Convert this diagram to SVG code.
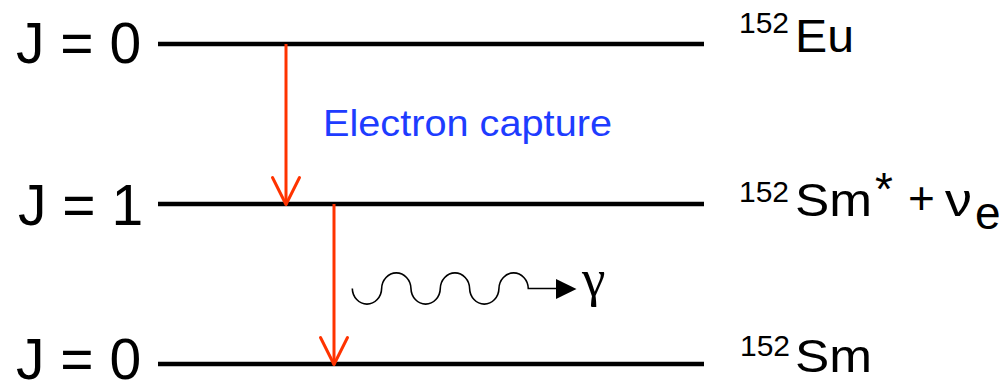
<svg xmlns="http://www.w3.org/2000/svg" width="999" height="387" viewBox="0 0 999 387">
  <style>
    .level { stroke: #000; stroke-width: 4.5; fill: none; }
    .j { font-family: "Liberation Sans", Arial, sans-serif; font-size: 57px; fill: #000; }
    .sup { font-family: "Liberation Sans", Arial, sans-serif; font-size: 30px; fill: #000; }
    .nuc { font-family: "Liberation Sans", Arial, sans-serif; font-size: 46px; fill: #000; }
    .decay { stroke: #ff3300; stroke-width: 3; fill: none; stroke-linejoin: round; }
    .blue { font-family: "Liberation Sans", Arial, sans-serif; font-size: 37px; fill: #1e3cff; }
    .wave { stroke: #000; stroke-width: 1.6; fill: none; }
  </style>
  <defs>
    <marker id="openV" markerUnits="userSpaceOnUse" viewBox="-32 -18 36 36" markerWidth="36" markerHeight="36" refX="0" refY="0" orient="auto" overflow="visible">
      <path d="M-27,-13.5 L0,0 L-27,13.5" fill="none" stroke="#ff3300" stroke-width="3" stroke-linejoin="round" stroke-linecap="round"/>
    </marker>
  </defs>
  <rect width="999" height="387" fill="#fff"/>

  <g id="level-eu152">
    <line class="level" x1="158" y1="44" x2="704" y2="44"/>
    <text class="j" x="16" y="63">J = 0</text>
    <text class="sup" x="739" y="33">152</text>
    <text class="nuc" x="795" y="52" textLength="59" lengthAdjust="spacingAndGlyphs">Eu</text>
  </g>

  <g id="level-sm152-excited">
    <line class="level" x1="158" y1="204" x2="704" y2="204"/>
    <text class="j" x="18" y="225">J = 1</text>
    <text class="sup" x="739" y="202">152</text>
    <text class="nuc" x="795" y="216" textLength="77" lengthAdjust="spacingAndGlyphs">Sm</text>
    <text class="nuc" x="875" y="205" font-size="36">*</text>
    <text class="nuc" x="908" y="214" font-size="40">+</text>
    <text class="nuc" x="945" y="216" font-size="32" textLength="27" lengthAdjust="spacingAndGlyphs">ν</text>
    <text class="nuc" x="975" y="229" font-size="28">e</text>
  </g>

  <g id="level-sm152">
    <line class="level" x1="158" y1="364" x2="704" y2="364"/>
    <text class="j" x="16" y="379">J = 0</text>
    <text class="sup" x="740" y="356">152</text>
    <text class="nuc" x="795" y="372" textLength="77" lengthAdjust="spacingAndGlyphs">Sm</text>
  </g>

  <g id="label-electron-capture">
    <text class="blue" x="323" y="136" textLength="289" lengthAdjust="spacingAndGlyphs">Electron capture</text>
  </g>

  <g id="gamma-photon">
    <path class="wave" d="M352.3,288.5 a14.67,16 0 0 0 29.33,0 a14.67,16 0 0 1 29.33,0 a14.67,16 0 0 0 29.33,0 a14.67,16 0 0 1 29.33,0 a14.67,16 0 0 0 29.33,0 a14.67,16 0 0 1 29.33,0 L556.5,288.5"/>
    <path d="M556,279 L576.5,289 L556,299 Z" fill="#000"/>
    <text x="582" y="296" font-family="'Liberation Serif', 'Times New Roman', serif" font-size="53" fill="#000">γ</text>
  </g>

  <g id="connectors">
    <line class="decay" x1="286" y1="44" x2="286" y2="204.5" marker-end="url(#openV)"/>
    <line class="decay" x1="334" y1="204" x2="334" y2="364.5" marker-end="url(#openV)"/>
  </g>
</svg>
